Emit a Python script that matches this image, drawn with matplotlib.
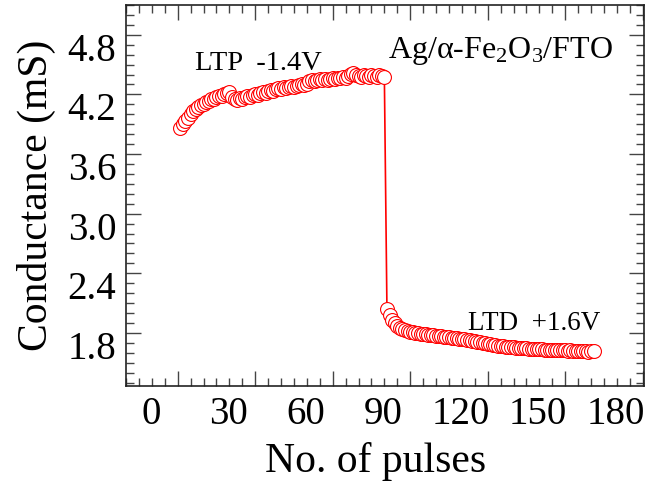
import numpy as np
import matplotlib
matplotlib.use("Agg")
import matplotlib.pyplot as plt
from matplotlib.ticker import MultipleLocator
from matplotlib.transforms import ScaledTranslation

# LTP: pulses 1..80, LTD: pulses 81..161 (conductance in mS)
ltp_pulse = np.arange(1, 81)
ltp_g = [3.86, 3.90, 3.93, 3.96, 4.00, 4.03, 4.05, 4.07, 4.09, 4.10,
         4.12, 4.13, 4.15, 4.15, 4.17, 4.18, 4.18, 4.20, 4.21, 4.22,
         4.17, 4.15, 4.14, 4.16, 4.15, 4.17, 4.18, 4.17, 4.19, 4.20,
         4.19, 4.21, 4.22, 4.21, 4.23, 4.24, 4.23, 4.25, 4.26, 4.25,
         4.27, 4.26, 4.27, 4.28, 4.27, 4.28, 4.29, 4.30, 4.29, 4.31,
         4.34, 4.35, 4.34, 4.35, 4.36, 4.35, 4.36, 4.35, 4.36, 4.37,
         4.36, 4.37, 4.37, 4.38, 4.37, 4.39, 4.41, 4.42, 4.40, 4.39,
         4.38, 4.40, 4.39, 4.38, 4.40, 4.39, 4.38, 4.40, 4.39, 4.38]
ltd_pulse = np.arange(81, 162)
ltd_g = [2.04, 1.98, 1.93, 1.90, 1.87, 1.85, 1.84, 1.83, 1.82, 1.81,
         1.81, 1.80, 1.80, 1.79, 1.79, 1.79, 1.78, 1.78, 1.78, 1.77,
         1.77, 1.77, 1.76, 1.76, 1.76, 1.75, 1.75, 1.75, 1.74, 1.74,
         1.74, 1.73, 1.73, 1.72, 1.72, 1.71, 1.71, 1.70, 1.70, 1.69,
         1.69, 1.68, 1.68, 1.67, 1.67, 1.67, 1.66, 1.66, 1.66, 1.66,
         1.65, 1.65, 1.65, 1.65, 1.65, 1.64, 1.64, 1.64, 1.64, 1.64,
         1.64, 1.63, 1.63, 1.63, 1.63, 1.63, 1.63, 1.63, 1.63, 1.63,
         1.62, 1.63, 1.62, 1.62, 1.62, 1.62, 1.62, 1.62, 1.61, 1.62,
         1.62]

x_ticks = np.arange(0, 181, 30)
y_ticks = [1.8, 2.4, 3.0, 3.6, 4.2, 4.8]

plt.rcParams["font.family"] = ["Liberation Serif", "DejaVu Serif"]
plt.rcParams["mathtext.fontset"] = "custom"
plt.rcParams["mathtext.rm"] = "Liberation Serif"
plt.rcParams["mathtext.it"] = "Liberation Serif:italic"

fig = plt.figure(figsize=(6.52, 4.88), dpi=100)
ax = fig.add_axes([0.1933, 0.208, 0.7944, 0.7817])

pulses = np.concatenate([ltp_pulse, ltd_pulse])
g = np.array(ltp_g + ltd_g)
ax.plot(pulses, g, "-", color="red", lw=1.2, zorder=2)
ax.plot(pulses, g, "o", ms=10, mfc="white", mec="red", mew=0.8, zorder=3)

ax.set_xlim(-20, 180.5)
ax.set_ylim(1.26, 5.1)
ax.set_xticks(x_ticks)
ax.set_xticklabels([str(v) for v in x_ticks])
ax.set_yticks(y_ticks)
ax.set_yticklabels([f"{v:.1f}" for v in y_ticks])
ax.xaxis.set_minor_locator(MultipleLocator(5))
ax.yaxis.set_minor_locator(MultipleLocator(0.1))
ax.tick_params(which="both", direction="in", top=True, right=True, color="#444444", width=1.0)
ax.tick_params(which="major", length=11, labelsize=28, pad=7)
ax.tick_params(which="minor", length=6)
for s in ax.spines.values():
    s.set_linewidth(1.2)
    s.set_color("#222222")

# tick labels sit a little off their ticks in the original
for lbl in ax.get_xticklabels():
    lbl.set_transform(lbl.get_transform() + ScaledTranslation(-0.27, 0, fig.dpi_scale_trans))
for lbl in ax.get_yticklabels():
    lbl.set_transform(lbl.get_transform() + ScaledTranslation(0, -0.12, fig.dpi_scale_trans))

ax.set_xlabel("No. of pulses", fontsize=30)
ax.xaxis.set_label_coords(0.481, -0.145)
ax.set_ylabel("Conductance (mS)", fontsize=30, labelpad=8)

ax.text(0.133, 0.83, "LTP  -1.4V", transform=ax.transAxes, fontsize=20.5, va="baseline")
ax.text(0.506, 0.862, "Ag/\u03b1-Fe$_2$O$_3$/FTO", transform=ax.transAxes, fontsize=23, va="baseline")
ax.text(0.66, 0.148, "LTD  +1.6V", transform=ax.transAxes, fontsize=19.5, va="baseline")

fig.savefig("out.png", dpi=100)
